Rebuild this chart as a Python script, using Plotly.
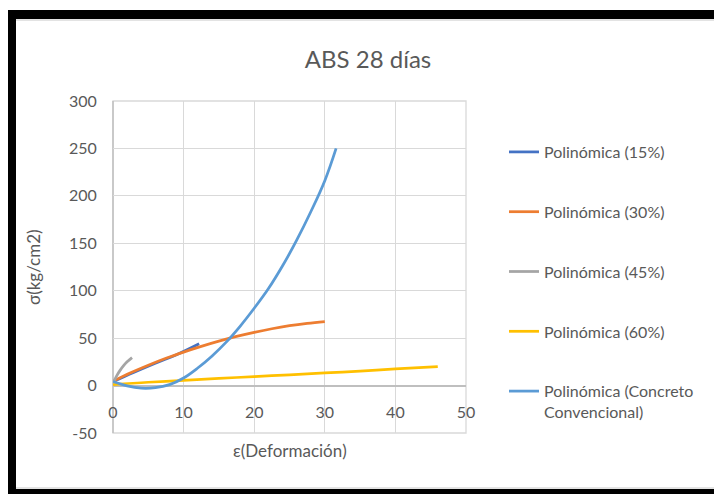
import plotly.graph_objects as go

# data (stress vs strain trendlines)
x_15 = [0, 3, 6, 9, 12.2]
y_15 = [4, 14, 23.5, 32.5, 44]

x_30 = [0, 2.5, 5, 7.5, 10, 12.5, 15, 17.5, 20, 22.5, 25, 27.5, 30]
y_30 = [4.5, 13.5, 21.5, 28.8, 35.3, 41.3, 46.8, 51.8, 56.1, 59.9, 63.1, 65.6, 67.5]

x_45 = [0.1, 0.5, 1.0, 1.5, 2.0, 2.7]
y_45 = [4, 10, 16, 21, 25, 29.5]

x_60 = [0, 5, 10, 15, 20, 25, 30, 35, 40, 46]
y_60 = [1, 3.5, 5.5, 7.5, 9.5, 11.3, 13.3, 15.3, 17.5, 20]

x_cc = [0, 2, 4, 6, 8, 10, 12, 14, 16, 18, 20, 22, 24, 26, 28, 30, 31.6]
y_cc = [4.2, -0.3, -2.7, -2.2, 1, 8, 18.5, 31, 45.5, 62.5, 81.5, 102, 126, 153, 183, 216, 250]

series_names = ["Polinómica (15%)", "Polinómica (30%)", "Polinómica (45%)",
                "Polinómica (60%)", "Polinómica (Concreto<br>Convencional)"]
series_colors = ["#4472C4", "#ED7D31", "#A5A5A5", "#FFC000", "#5B9BD5"]

x_ticks = [0, 10, 20, 30, 40, 50]
y_ticks = [-50, 0, 50, 100, 150, 200, 250, 300]

FONT = "Lato"
GREY_TXT = "#595959"

# pixel helpers for the bits placed outside the plot area
W, H = 714, 494
ML, MR, MT, MB = 113, 248, 101, 61
PW, PH = W - ML - MR, H - MT - MB


def px(x):
    return (x - ML) / PW


def py(y):
    return (H - MB - y) / PH


fig = go.Figure()
all_x = [x_15, x_30, x_45, x_60, x_cc]
all_y = [y_15, y_30, y_45, y_60, y_cc]
for i in range(5):
    fig.add_trace(go.Scatter(
        x=all_x[i], y=all_y[i], mode="lines", name=series_names[i],
        legendgroup=str(i),
        line=dict(color=series_colors[i], width=2.75, shape="spline", smoothing=1.1),
        hoverinfo="skip",
    ))

fig.update_layout(
    width=W, height=H,
    margin=dict(l=ML, r=MR, t=MT, b=MB, pad=0),
    paper_bgcolor="white", plot_bgcolor="white",
    font=dict(family=FONT, color=GREY_TXT, size=16),
    title=dict(text="ABS 28 días", x=px(368), xref="paper", xanchor="center",
               y=1 - 60 / H, yref="container", yanchor="middle",
               font=dict(family=FONT, size=24, color=GREY_TXT)),
    showlegend=True,
    legend=dict(x=px(504), y=py(135), xanchor="left", yanchor="top",
                tracegroupgap=36, traceorder="grouped", valign="top",
                font=dict(family=FONT, size=16, color=GREY_TXT),
                bgcolor="rgba(0,0,0,0)"),
    xaxis=dict(range=[0, 50], tickvals=x_ticks, ticktext=[str(v) for v in x_ticks],
               showgrid=True, gridcolor="#d9d9d9", gridwidth=1.3,
               zeroline=False, anchor="free", position=50 / 350,
               showline=False, ticks="outside", ticklen=12,
               tickcolor="rgba(0,0,0,0)",
               tickfont=dict(family=FONT, size=16, color=GREY_TXT)),
    yaxis=dict(range=[-50, 300], tickvals=y_ticks, ticktext=[str(v) for v in y_ticks],
               showgrid=True, gridcolor="#d9d9d9", gridwidth=1.3,
               zeroline=True, zerolinecolor="#bfbfbf", zerolinewidth=1.5,
               showline=False, ticks="outside", ticklen=12,
               tickcolor="rgba(0,0,0,0)",
               tickfont=dict(family=FONT, size=16, color=GREY_TXT)),
    annotations=[
        dict(text="ε(Deformación)", xref="paper", yref="paper",
             x=px(290), y=py(450), xanchor="center", yanchor="middle",
             showarrow=False, font=dict(family=FONT, size=17, color=GREY_TXT)),
        dict(text="σ(kg/cm2)", xref="paper", yref="paper", textangle=-90,
             x=px(33), y=py(267), xanchor="center", yanchor="middle",
             showarrow=False, font=dict(family=FONT, size=17, color=GREY_TXT)),
    ],
    shapes=[
        # plot box
        dict(type="rect", xref="paper", yref="paper", x0=0, x1=1, y0=0, y1=1,
             line=dict(color="#d9d9d9", width=1.3), layer="below"),
        # vertical line at x = 0
        dict(type="line", xref="paper", yref="paper", x0=0, x1=0, y0=0, y1=1,
             line=dict(color="#bfbfbf", width=1.5), layer="below"),
        # thick black frame of the picture
        dict(type="rect", xref="paper", yref="paper", x0=px(8), x1=px(730),
             y0=py(19), y1=py(10), fillcolor="black", line=dict(width=0)),
        dict(type="rect", xref="paper", yref="paper", x0=px(8), x1=px(16),
             y0=py(510), y1=py(10), fillcolor="black", line=dict(width=0)),
        dict(type="rect", xref="paper", yref="paper", x0=px(8), x1=px(730),
             y0=py(510), y1=py(489), fillcolor="black", line=dict(width=0)),
        dict(type="line", xref="paper", yref="paper", x0=px(16), x1=px(730),
             y0=py(20), y1=py(20), line=dict(color="#c8c8c8", width=1)),
        dict(type="line", xref="paper", yref="paper", x0=px(16), x1=px(730),
             y0=py(488), y1=py(488), line=dict(color="#c8c8c8", width=1)),
    ],
)

fig.write_html("out.html", config={"displayModeBar": False},
               post_script="document.body.style.margin='0';")
